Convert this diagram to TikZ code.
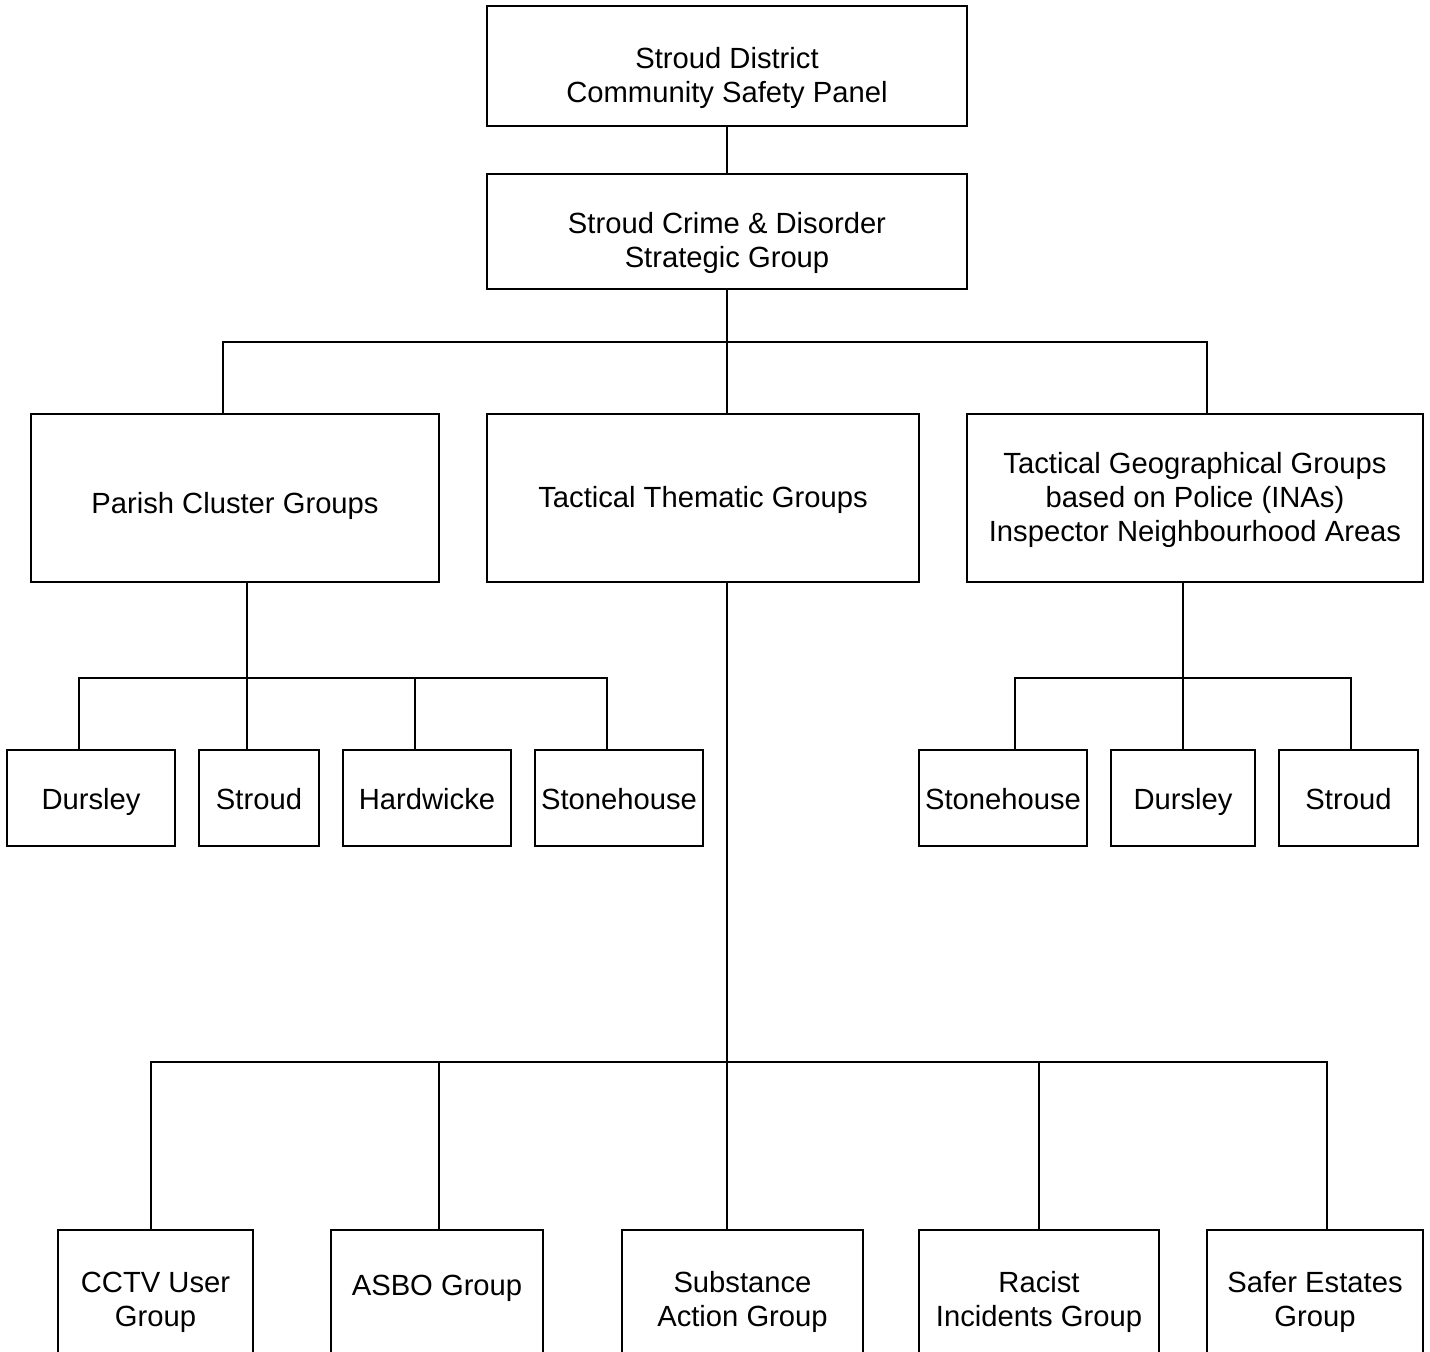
\documentclass[tikz,border=0pt]{standalone}
\usepackage{fontspec}
\setmainfont{Liberation Sans}
\usetikzlibrary{fit}
\begin{document}
\begin{tikzpicture}[x=0.5pt,y=-0.5pt,
  box/.style={draw,line width=1pt,inner sep=0pt,fill=none},
  txt/.style={align=center,inner sep=0pt,font=\fontsize{14.6pt}{17pt}\selectfont},
  oneline/.style={txt,text height=0.72em,text depth=0.21em},
  conn/.style={line width=0.8pt}]
\clip (0,0) rectangle (1430,1351);
\fill[white] (0,0) rectangle (1430,1351);
% boxes
\node[box,fit={(487,6) (967,126)}] (top) {};
\node[box,fit={(487,174) (967,289)}] (strat) {};
\node[box,fit={(31,414) (439,582)}] (parish) {};
\node[box,fit={(487,414) (919,582)}] (them) {};
\node[box,fit={(967,414) (1423,582)}] (geo) {};
\node[box,fit={(7,750) (175,846)}] (d1) {};
\node[box,fit={(199,750) (319,846)}] (s1) {};
\node[box,fit={(343,750) (511,846)}] (h1) {};
\node[box,fit={(535,750) (703,846)}] (st1) {};
\node[box,fit={(919,750) (1087,846)}] (st2) {};
\node[box,fit={(1111,750) (1255,846)}] (d2) {};
\node[box,fit={(1279,750) (1418,846)}] (s2) {};
\node[box,fit={(58,1230) (253,1380)}] (cctv) {};
\node[box,fit={(331,1230) (543,1380)}] (asbo) {};
\node[box,fit={(622,1230) (863,1380)}] (subst) {};
\node[box,fit={(919,1230) (1159,1380)}] (racist) {};
\node[box,fit={(1207,1230) (1423,1380)}] (safer) {};
% texts
\node[txt] (ttop) at (727,78) {Stroud District\\Community Safety Panel};
\node[txt] (tstrat) at (727,243) {Stroud Crime \& Disorder\\Strategic Group};
\node[oneline] (tparish) at (235,508) {Parish Cluster Groups};
\node[oneline] (tthem) at (703,502) {Tactical Thematic Groups};
\node[txt] (tgeo) at (1195,500) {Tactical Geographical Groups\\based on Police (INAs)\\Inspector Neighbourhood Areas};
\node[oneline] (td1) at (91,804) {Dursley};
\node[oneline] (ts1) at (259,804) {Stroud};
\node[oneline] (th1) at (427,804) {Hardwicke};
\node[oneline] (tst1) at (619,804) {Stonehouse};
\node[oneline] (tst2) at (1003,804) {Stonehouse};
\node[oneline] (td2) at (1183,804) {Dursley};
\node[oneline] (ts2) at (1348.5,804) {Stroud};
\node[txt] (tcctv) at (155.5,1302) {CCTV User\\Group};
\node[oneline] (tasbo) at (437,1290) {ASBO Group};
\node[txt] (tsubst) at (742.5,1302) {Substance\\Action Group};
\node[txt] (tracist) at (1039,1302) {Racist\\Incidents Group};
\node[txt] (tsafer) at (1315,1302) {Safer Estates\\Group};
% junctions
\coordinate (j1) at (727,342);
\coordinate (j2) at (247,678);
\coordinate (j3) at (1183,678);
\coordinate (j4) at (727,1062);
% connectors
\draw[conn] (top.south) -- (strat.north);
\draw[conn] (strat.south) -- (j1);
\draw[conn] (j1) -| ([xshift=-6pt]parish.north);
\draw[conn] (j1) -- (j1 |- them.north);
\draw[conn] (j1) -| ([xshift=6pt]geo.north);
\draw[conn] (parish.south -| j2) -- (j2);
\draw[conn] (j2) -| ([xshift=-6pt]d1.north);
\draw[conn] (j2) -- (j2 |- s1.north);
\draw[conn] (j2) -| ([xshift=-6pt]h1.north);
\draw[conn] (j2) -| ([xshift=-6pt]st1.north);
\draw[conn] (geo.south -| j3) -- (j3);
\draw[conn] (j3) -| ([xshift=6pt]st2.north);
\draw[conn] (j3) -- (j3 |- d2.north);
\draw[conn] (j3) -| ([xshift=1.25pt]s2.north);
\draw[conn] (them.south -| j4) -- (j4);
\draw[conn] (j4) -| ([xshift=-2.25pt]cctv.north);
\draw[conn] (j4) -| ([xshift=1pt]asbo.north);
\draw[conn] (j4) -| ([xshift=-7.75pt]subst.north);
\draw[conn] (j4) -| (racist.north);
\draw[conn] (j4) -| ([xshift=6pt]safer.north);
\end{tikzpicture}
\end{document}
